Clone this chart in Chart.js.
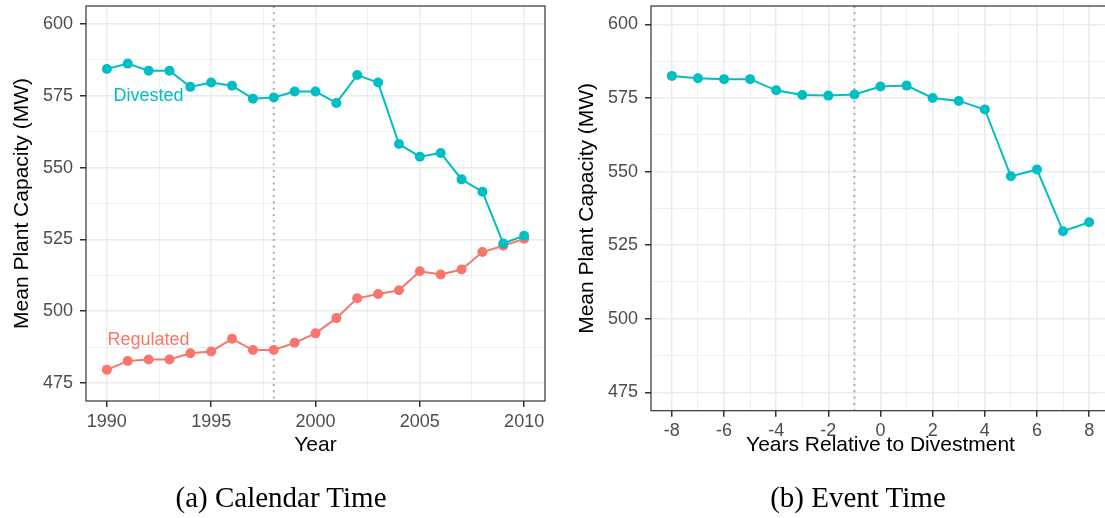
<!DOCTYPE html>
<html>
<head>
<meta charset="utf-8">
<script src="https://cdn.jsdelivr.net/npm/chart.js@4.4.1/dist/chart.umd.min.js"></script>
<style>
html, body { margin: 0; padding: 0; background: #fff; overflow: hidden; width: 1105px; height: 518px; }
#wrap { position: relative; width: 1105px; height: 518px; overflow: hidden; }
canvas { position: absolute; top: 0; }
#calCanvas { left: 0; }
#evtCanvas { left: 560px; }
.cap { position: absolute; top: 483px; font-family: "Liberation Serif", serif; font-size: 29px; line-height: 28px; color: #000; white-space: nowrap; transform: translateX(-50%); }
</style>
</head>
<body>
<div id="wrap">
  <canvas id="calCanvas" width="555" height="518"></canvas>
  <canvas id="evtCanvas" width="555" height="518"></canvas>
  <div class="cap" style="left:281px">(a) Calendar Time</div>
  <div class="cap" style="left:858px">(b) Event Time</div>
</div>
<script>
// calendar time panel
var years = [1990, 1991, 1992, 1993, 1994, 1995, 1996, 1997, 1998, 1999, 2000,
             2001, 2002, 2003, 2004, 2005, 2006, 2007, 2008, 2009, 2010];
var divested = [584.3, 586.2, 583.7, 583.7, 578.1, 579.6, 578.5, 574.0, 574.4, 576.5, 576.5,
                572.5, 582.2, 579.6, 558.2, 553.8, 555.1, 545.9, 541.6, 523.6, 526.3];
var regulated = [479.6, 482.7, 483.2, 483.2, 485.4, 486.0, 490.4, 486.5, 486.5, 489.0, 492.3,
                 497.6, 504.5, 506.0, 507.3, 513.9, 512.8, 514.5, 520.6, 522.8, 525.2];
var calYearTicks = [1990, 1995, 2000, 2005, 2010];
var calVline = 1998;
var seriesLabels = [
  { text: "Divested", x: 1992, y: 575, color: "#00BFC4" },
  { text: "Regulated", x: 1992, y: 490, color: "#F8766D" }
];

// event time panel
var eventYears = [-8, -7, -6, -5, -4, -3, -2, -1, 0, 1, 2, 3, 4, 5, 6, 7, 8];
var eventDivested = [582.5, 581.7, 581.4, 581.4, 577.6, 576.0, 575.8, 576.2, 578.9,
                     579.2, 575.0, 574.0, 571.1, 548.4, 550.7, 529.7, 532.8];
var evtTicks = [-8, -6, -4, -2, 0, 2, 4, 6, 8];
var evtVline = -1;

var capTicks = [475, 500, 525, 550, 575, 600];

var TEAL = "#00BFC4";
var SALMON = "#F8766D";

function pairs(xs, ys) {
  return xs.map(function (x, i) { return { x: x, y: ys[i] }; });
}

// major ticks plus the minor ones halfway between
function withMinor(major) {
  var out = [];
  var step = major[1] - major[0];
  out.push(major[0] - step / 2);
  major.forEach(function (v) { out.push(v); out.push(v + step / 2); });
  return out;
}

function isMajor(list, v) {
  return list.some(function (m) { return Math.abs(m - v) < 1e-6; });
}

function axisOpts(major, min, max, title, titlePad, fitSize, horizontal) {
  var all = withMinor(major).filter(function (v) { return v > min && v < max; });
  return {
    type: "linear",
    min: min,
    max: max,
    afterBuildTicks: function (axis) {
      axis.ticks = all.map(function (v) { return { value: v }; });
    },
    afterFit: function (axis) {
      if (horizontal) axis.height = fitSize; else axis.width = fitSize;
      // keep the plot box where we put it
      axis.paddingTop = 0;
      axis.paddingBottom = 0;
      axis.paddingLeft = 0;
      axis.paddingRight = 0;
    },
    border: { display: false },
    grid: {
      color: "#ebebeb",
      lineWidth: function (c) { return isMajor(major, c.tick.value) ? 1.5 : 0.8; },
      tickColor: function (c) { return isMajor(major, c.tick.value) ? "#333333" : "rgba(0,0,0,0)"; },
      tickWidth: 1.5,
      tickLength: 6,
      drawTicks: true
    },
    ticks: {
      autoSkip: false,
      maxRotation: 0,
      padding: horizontal ? 4 : 7,
      color: "#4d4d4d",
      font: { family: "Liberation Sans, Arial, sans-serif", size: 18 },
      callback: function (v) { return isMajor(major, v) ? String(v) : ""; }
    },
    title: {
      display: true,
      text: title,
      color: "#000",
      padding: { top: titlePad, bottom: 0 },
      font: { family: "Liberation Sans, Arial, sans-serif", size: 21, lineHeight: 1.2 }
    }
  };
}

function panelPlugin(vline, labels) {
  return {
    id: "panelDeco",
    beforeDatasetsDraw: function (chart) {
      var ctx = chart.ctx, a = chart.chartArea;
      var px = chart.scales.x.getPixelForValue(vline);
      ctx.save();
      ctx.strokeStyle = "#ababab";
      ctx.lineWidth = 2;
      ctx.setLineDash([2, 4.3]);
      ctx.beginPath();
      ctx.moveTo(px, a.top);
      ctx.lineTo(px, a.bottom);
      ctx.stroke();
      ctx.restore();
    },
    afterDatasetsDraw: function (chart) {
      var ctx = chart.ctx, a = chart.chartArea;
      ctx.save();
      (labels || []).forEach(function (l) {
        ctx.fillStyle = l.color;
        ctx.font = "18px 'Liberation Sans', Arial, sans-serif";
        ctx.textAlign = "center";
        ctx.textBaseline = "middle";
        ctx.fillText(l.text, chart.scales.x.getPixelForValue(l.x), chart.scales.y.getPixelForValue(l.y));
      });
      ctx.strokeStyle = "#333333";
      ctx.lineWidth = 1.2;
      ctx.strokeRect(a.left, a.top, a.right - a.left, a.bottom - a.top);
      ctx.restore();
    }
  };
}

function lineSet(label, pts, color) {
  return {
    label: label,
    data: pts,
    borderColor: color,
    backgroundColor: color,
    borderWidth: 2,
    pointRadius: 5,
    pointHoverRadius: 5,
    pointBorderWidth: 0,
    fill: false,
    tension: 0
  };
}

var calChart = new Chart(document.getElementById("calCanvas"), {
  type: "line",
  data: {
    datasets: [
      lineSet("Divested", pairs(years, divested), TEAL),
      lineSet("Regulated", pairs(years, regulated), SALMON)
    ]
  },
  options: {
    responsive: false,
    animation: false,
    layout: { padding: { top: 6, right: 10, bottom: 60, left: 0 } },
    plugins: { legend: { display: false }, tooltip: { enabled: false } },
    scales: {
      x: axisOpts(calYearTicks, 1989, 2011, "Year", 0, 57, true),
      y: axisOpts(capTicks, 468.75, 606.25, "Mean Plant Capacity (MW)", 10, 86, false)
    }
  },
  plugins: [panelPlugin(calVline, seriesLabels)]
});

var evtChart = new Chart(document.getElementById("evtCanvas"), {
  type: "line",
  data: {
    datasets: [
      lineSet("Divested", pairs(eventYears, eventDivested), TEAL)
    ]
  },
  options: {
    responsive: false,
    animation: false,
    layout: { padding: { top: 6, right: 5, bottom: 60, left: 0 } },
    plugins: { legend: { display: false }, tooltip: { enabled: false } },
    scales: {
      x: axisOpts(evtTicks, -8.8, 8.8, "Years Relative to Divestment", 0, 47.3, true),
      y: axisOpts(capTicks, 468.75, 606.25, "Mean Plant Capacity (MW)", 15, 91, false)
    }
  },
  plugins: [panelPlugin(evtVline, [])]
});
</script>
</body>
</html>
